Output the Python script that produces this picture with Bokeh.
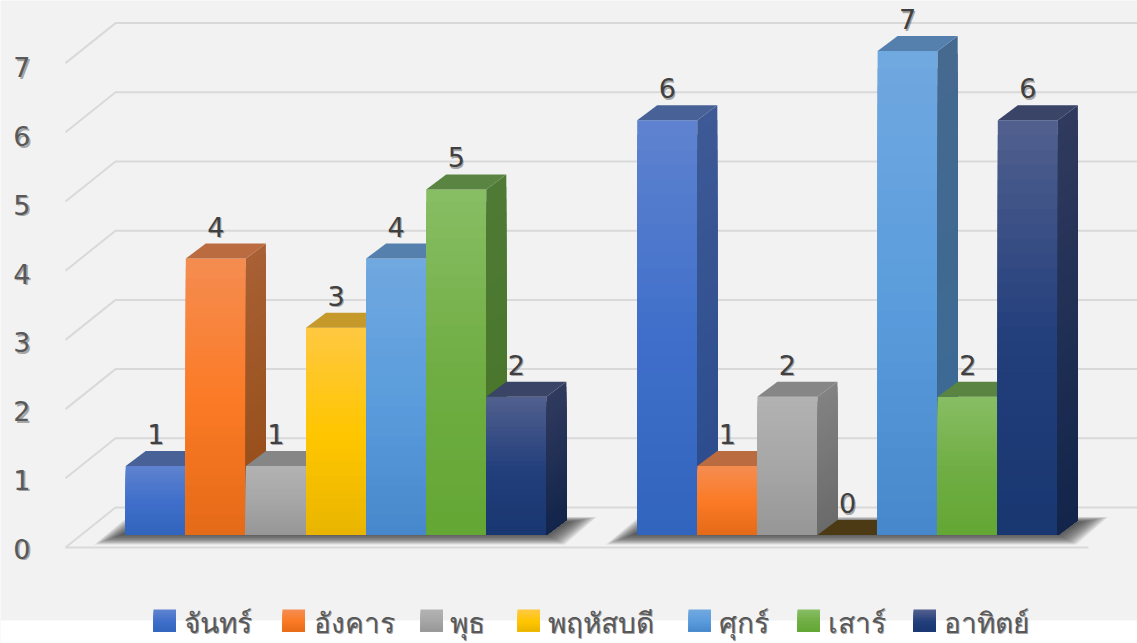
from bokeh.plotting import figure
from bokeh.models import Range1d, LinearAxis, FixedTicker, BoxAnnotation
from bokeh.core.properties import value
from bokeh.embed import file_html
from bokeh.resources import INLINE

series_names = ["จันทร์", "อังคาร", "พุธ", "พฤหัสบดี", "ศุกร์", "เสาร์", "อาทิตย์"]
group_a = [1, 4, 1, 3, 4, 5, 2]
group_b = [6, 1, 2, 0, 7, 2, 6]
axis_ticks = [0, 1, 2, 3, 4, 5, 6, 7]

front_colors = [
    ("#5e82cf", "#3f6fca", "#3164bd"),
    ("#f58c4f", "#fb7a25", "#e46a17"),
    ("#b2b2b2", "#a6a6a6", "#969696"),
    ("#ffc83f", "#ffc600", "#e8b400"),
    ("#70a8e0", "#5a9cdc", "#4587ca"),
    ("#87bd63", "#70ae44", "#63a633"),
    ("#505f8e", "#233f7c", "#183670"),
]
side_colors = [
    ("#3d5a96", "#2a4a8c"),
    ("#a86034", "#934a14"),
    ("#828282", "#6a6a6a"),
    ("#a8842a", "#8c7000"),
    ("#46698f", "#386a96"),
    ("#4f7a35", "#467526"),
    ("#2f3a5e", "#12244a"),
]
top_colors = ["#486196", "#bb6b40", "#868686", "#c69a2a", "#5580ad", "#5a8441", "#394467"]
zero_top = "#4b3a13"
grid_color = "#d9d9d9"

# page layout, in page pixels
W, H, MARGIN = 1137, 643, 0
BAR_PX, UNIT_PX = 60.1, 69.14
LEFT_PX, BASE_PX = 125.2, 534.6
GROUP_PITCH = 511.5 / BAR_PX
DX, DY = 20 / BAR_PX, 15 / UNIT_PX


def xp(px):
    return (px - LEFT_PX) / BAR_PX


def yp(px):
    return (BASE_PX - px) / UNIT_PX


def rgb(h):
    return tuple(int(h[i:i + 2], 16) for i in (1, 3, 5))


def mix(a, b, t):
    ra, rb = rgb(a), rgb(b)
    return "#%02x%02x%02x" % tuple(round(u + (v - u) * t) for u, v in zip(ra, rb))


def grad3(c, t):
    return mix(c[0], c[1], t * 2) if t < .5 else mix(c[1], c[2], (t - .5) * 2)


p = figure(width=W, height=H, output_backend="svg", toolbar_location=None,
           x_range=Range1d(xp(MARGIN), xp(MARGIN + W)),
           y_range=Range1d(yp(MARGIN + H), yp(MARGIN)),
           min_border=0, min_border_left=0, min_border_right=0, min_border_top=0, min_border_bottom=0,
           x_axis_location=None, y_axis_location=None,
           background_fill_color="#f2f2f2", border_fill_color="#f2f2f2", outline_line_color=None)
p.grid.visible = False
p.add_layout(BoxAnnotation(left=0, right=W, top=MARGIN + H - 620, bottom=0, left_units="screen", right_units="screen",
                           top_units="screen", bottom_units="screen", fill_color="#ffffff", fill_alpha=1,
                           line_color=None, level="underlay"))

# grid of wall and floor
xs, ys = [], []
for t in axis_ticks:
    y = 547 - 69.2 * t
    xs.append([xp(65), xp(115), xp(MARGIN + W)])
    ys.append([yp(y), yp(y - 40), yp(y - 40)])
xs.append([xp(65), xp(1088)])
ys.append([yp(547), yp(547)])
p.multi_line(xs, ys, line_color=grid_color, line_width=2)

# floor shadow
sx, sy, sc = [], [], []
for g in (0, 1):
    x0 = LEFT_PX + g * GROUP_PITCH * BAR_PX
    x1 = x0 + 7 * BAR_PX
    for i in range(12):
        k = i * 1.6
        sx.append([xp(x0 - 31 + k * 1.5), xp(x1 + 18 - k), xp(x1 + 50 - k * 1.6), xp(x0 + 2 + k)])
        sy.append([yp(544 - k * .55), yp(544 - k * .55), yp(516.5 + k * .3), yp(516.5 + k * .3)])
        sc.append("#3a3a3a")
p.patches(sx, sy, fill_color=sc, fill_alpha=.13, line_color=None)

# bars, painted from left to right
fx, fy, fc = [], [], []
STRIPS = 28
for g, vals in enumerate((group_a, group_b)):
    for i, v in enumerate(vals):
        x0 = g * GROUP_PITCH + i
        x1 = x0 + 1
        if v > 0:
            for k in range(STRIPS):
                t = k / STRIPS
                top = v * (1 - t)
                fx.append([x0, x1, x1, x0])
                fy.append([0, 0, top, top])
                fc.append(grad3(front_colors[i], t))
            for k in range(STRIPS):
                t = k / STRIPS
                top = v * (1 - t)
                fx.append([x1, x1 + DX, x1 + DX, x1])
                fy.append([0, DY, top + DY, top])
                fc.append(mix(side_colors[i][0], side_colors[i][1], t))
        fx.append([x0, x1, x1 + DX, x0 + DX])
        fy.append([v, v, v + DY, v + DY])
        fc.append(top_colors[i] if v > 0 else zero_top)
p.patches(fx, fy, fill_color=fc, line_color=None)

# data labels
FONT = value("DejaVu Sans")
THAI = value("Noto Sans")
lx, ly, lt = [], [], []
for g, vals in enumerate((group_a, group_b)):
    for i, v in enumerate(vals):
        lx.append(g * GROUP_PITCH + i + .5)
        ly.append(v + 32 / UNIT_PX)
        lt.append(str(v))
p.text([x + 1.2 / BAR_PX for x in lx], [y - 1.5 / UNIT_PX for y in ly], text=lt, text_font=FONT,
       text_font_size="27px", text_color="#000000", text_alpha=.32, text_align="center", text_baseline="middle")
p.text(lx, ly, text=lt, text_font=FONT, text_font_size="27px", text_color="#404040",
       text_align="center", text_baseline="middle")

# value axis, drawn inside the plot area, on the wall's own scale
AX_BASE, AX_UNIT = 548, 68.75
p.extra_y_ranges["wall"] = Range1d((AX_BASE - MARGIN - H) / AX_UNIT, (AX_BASE - MARGIN) / AX_UNIT)
p.text([xp(22 + 1.2)] * len(axis_ticks), [yp(AX_BASE + 1.5 - AX_UNIT * t) for t in axis_ticks],
       text=[str(t) for t in axis_ticks], text_font=FONT,
       text_font_size="27px", text_color="#000000", text_alpha=.32, text_align="center", text_baseline="middle")
axis = LinearAxis(y_range_name="wall", ticker=FixedTicker(ticks=axis_ticks), fixed_location=xp(36),
                  axis_line_color=None, major_tick_line_color=None, minor_tick_line_color=None,
                  major_label_text_font="DejaVu Sans", major_label_text_font_size="27px",
                  major_label_text_color="#595959", major_label_standoff=0)
p.add_layout(axis, "left")

# legend
swatch_left = [153, 282, 420, 517, 688, 797, 913]
text_left = [183.5, 313.5, 449.5, 547.5, 718.5, 827.5, 943.5]
gx, gy, gc = [], [], []
for i, sl in enumerate(swatch_left):
    for k in range(12):
        t = k / 12
        gx.append([xp(sl), xp(sl + 22.5), xp(sl + 22.5), xp(sl)])
        gy.append([yp(631), yp(631), yp(631 - 22 * (1 - t)), yp(631 - 22 * (1 - t))])
        gc.append(grad3(front_colors[i], t))
p.patches(gx, gy, fill_color=gc, line_color=None)
p.text([xp(x + 1.2) for x in text_left], [yp(622.5)] * 7, text=series_names, text_font=THAI, text_font_size="28px",
       text_color="#000000", text_alpha=.35, text_align="left", text_baseline="middle")
p.text([xp(x) for x in text_left], [yp(621)] * 7, text=series_names, text_font=THAI, text_font_size="28px",
       text_color="#595959", text_align="left", text_baseline="middle")

html = file_html(p, INLINE)
html = html.replace("</head>", "<style>body{margin:0}</style></head>", 1)
open("out.html", "w").write(html)
